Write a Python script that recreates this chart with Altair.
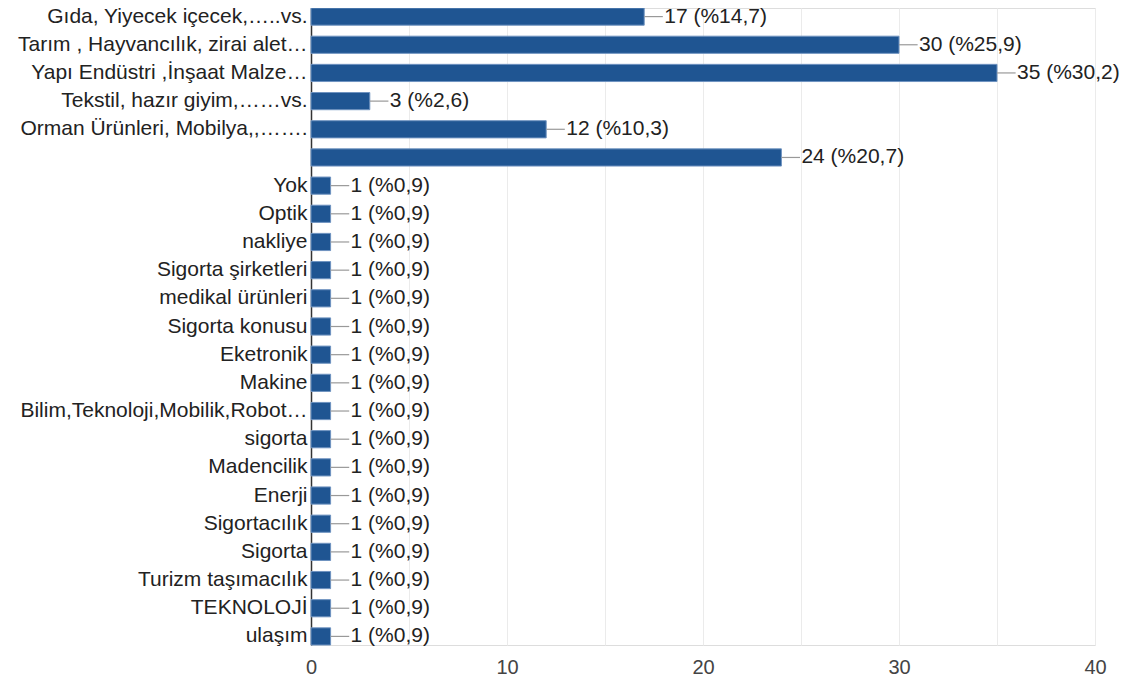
import altair as alt
import pandas as pd

categories = [
    "Gıda, Yiyecek içecek,…..vs.",
    "Tarım , Hayvancılık, zirai alet…",
    "Yapı Endüstri ,İnşaat Malze…",
    "Tekstil, hazır giyim,……vs.",
    "Orman Ürünleri, Mobilya,,…….",
    " ",
    "Yok",
    "Optik",
    "nakliye",
    "Sigorta şirketleri",
    "medikal ürünleri",
    "Sigorta konusu",
    "Eketronik",
    "Makine",
    "Bilim,Teknoloji,Mobilik,Robot…",
    "sigorta",
    "Madencilik",
    "Enerji",
    "Sigortacılık",
    "Sigorta",
    "Turizm taşımacılık",
    "TEKNOLOJİ",
    "ulaşım",
]
counts = [17, 30, 35, 3, 12, 24] + [1] * 17
percents = ["14,7", "25,9", "30,2", "2,6", "10,3", "20,7"] + ["0,9"] * 17

df = pd.DataFrame({"cat": categories, "count": counts, "pct": percents})
df["label"] = df["count"].astype(str) + " (%" + df["pct"] + ")"

FONT = "Liberation Sans"
FS = 21

y_enc = alt.Y(
    "cat:N",
    sort=None,
    scale=alt.Scale(paddingInner=0.39, paddingOuter=0),
    axis=alt.Axis(
        title=None,
        labelFontSize=FS,
        labelColor="#222222",
        labelFont=FONT,
        labelLimit=400,
        labelPadding=4,
        ticks=False,
        domain=True,
        domainColor="#333333",
        domainWidth=1.5,
        grid=False,
    ),
)

x_scale = alt.Scale(domain=[0, 40], nice=False)

bars = alt.Chart(df).mark_bar(
    color="#1f5592", stroke="#6f93c0", strokeWidth=1
).encode(
    x=alt.X(
        "count:Q",
        scale=x_scale,
        axis=alt.Axis(
            title=None,
            values=[0, 5, 10, 15, 20, 25, 30, 35, 40],
            labelExpr="datum.value % 10 == 0 ? datum.label : ''",
            labelFontSize=20,
            labelColor="#444444",
            labelFont=FONT,
            labelPadding=12,
            labelFlush=False,
            ticks=False,
            domain=False,
            grid=True,
            gridColor="#ebebeb",
            gridWidth=1,
        ),
    ),
    y=y_enc,
)

leader = alt.Chart(df).transform_calculate(
    end="datum.count + 0.95"
).mark_rule(color="#999999", strokeWidth=1.2).encode(
    x=alt.X("count:Q", scale=x_scale),
    x2="end:Q",
    y=alt.Y("cat:N", sort=None),
)

texts = alt.Chart(df).mark_text(
    align="left", baseline="middle", dx=20, fontSize=FS, font=FONT, color="#222222"
).encode(
    x=alt.X("count:Q", scale=x_scale),
    y=alt.Y("cat:N", sort=None),
    text="label:N",
)

chart = alt.layer(bars, leader, texts).properties(
    width=784,
    height=637,
    padding={"left": 303, "top": 0, "right": 25, "bottom": 33},
    autosize=alt.AutoSizeParams(type="none"),
).configure_view(
    stroke="#e6e6e6", strokeWidth=1.5
).configure(background="white")

chart.save("out.html", embed_options={"renderer": "svg", "actions": False})
